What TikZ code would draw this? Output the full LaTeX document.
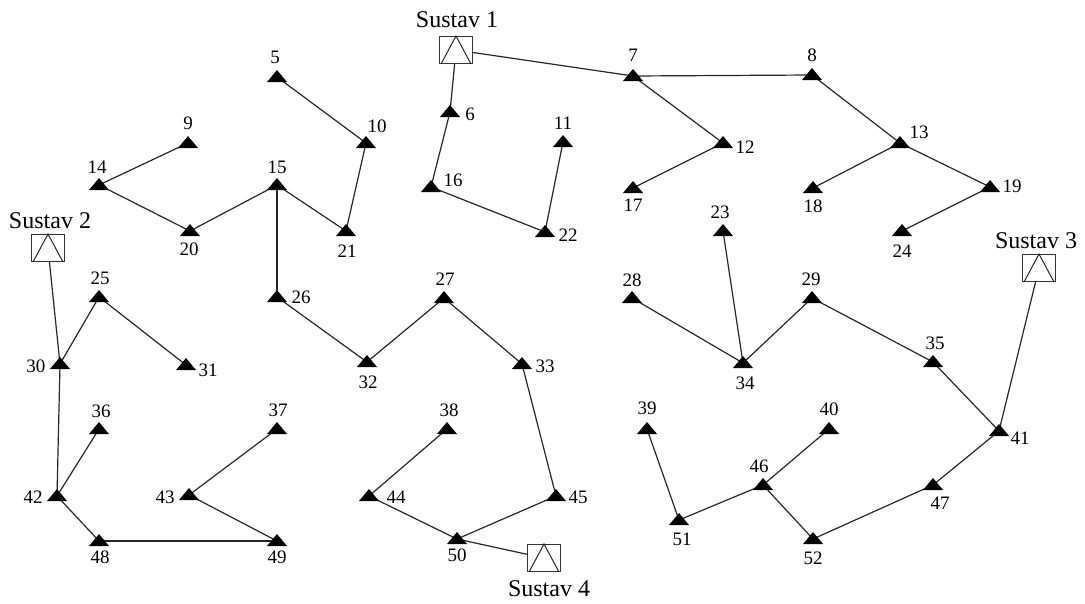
\documentclass[tikz,border=0pt]{standalone}
\usepackage{fontspec}
\setmainfont{Liberation Serif}
\begin{document}
\begin{tikzpicture}[x=1pt,y=-1pt,
  conn/.style={line width=1.2pt,draw=black!85},
  numlabel/.style={font=\fontsize{19}{19}\selectfont,inner sep=0pt},
  syslabel/.style={font=\fontsize{24}{24}\selectfont,inner sep=0pt},
  sbox/.style={draw=black!80,line width=1pt,fill=white,minimum width=33pt,minimum height=27pt,inner sep=0pt}]
\useasboundingbox (0,0) rectangle (1085,603);
% substations
\node[sbox] (s1) at (456,50) {};
\node[sbox] (s2) at (48,248) {};
\node[sbox] (s3) at (1039,268) {};
\node[sbox] (s4) at (544,558) {};
\node[syslabel] (ls1) at (457,20) {Sustav 1};
\node[syslabel] (ls2) at (50,221) {Sustav 2};
\node[syslabel] (ls3) at (1036,241) {Sustav 3};
\node[syslabel] (ls4) at (549,589) {Sustav 4};
% points
\foreach \n/\x/\y/\lx/\ly in {
5/277/77/275/57, 6/450/112/470/114, 7/633/76/633/55, 8/812/75/812/55,
9/188/143/188/123, 10/366/143/377/126, 11/563/142/563/123, 12/723/143/745/147,
13/900/143/919/132, 14/99/185/97/167, 15/277/185/277/167, 16/431/187/453/180,
17/633/188/633/205, 18/813/188/813/206, 19/990/187/1012/186, 20/190/231/189/249,
21/346/231/347/251, 22/545/232/568/235, 23/723/231/720/212, 24/902/231/902/251,
25/99/297/100/278, 26/277/297/301/297, 27/444/298/445/279, 28/632/298/632/280,
29/812/298/811/279, 30/60/364/36/366, 31/186/365/208/370, 32/367/362/368/382,
33/522/364/545/366, 34/743/363/745/383, 35/933/362/935/343, 36/99/429/101/411,
37/277/429/278/410, 38/447/429/449/410, 39/647/429/647/408, 40/829/429/829/409,
41/999/431/1020/438, 42/57/496/33/497, 43/189/495/165/497, 44/369/496/396/497,
45/556/496/578/497, 46/763/485/759/466, 47/933/485/940/503, 48/99/541/100/557,
49/277/541/277/557, 50/457/539/457/555, 51/679/520/682/539, 52/813/539/813/558}
{
  \coordinate (n\n) at (\x,\y);
  \node[numlabel] (l\n) at (\lx,\ly) {\n};
}
% connectors
\foreach \a/\b in {
s1/n7, s1/n6, n7/n8, n7/n12, n12/n17, n8/n13, n13/n18, n13/n19, n19/n24,
n6/n16, n16/n22, n22/n11, n5/n10, n10/n21, n21/n15, n15/n20, n20/n14, n14/n9,
n15/n26, n26/n32, n32/n27, n27/n33, n33/n45, n45/n50, n50/n44, n44/n38, n50/s4,
s2/n30, n30/n25, n25/n31, n30/n42, n42/n36, n42/n48, n48/n49, n49/n43, n43/n37,
n28/n34, n23/n34, n34/n29, n29/n35, n35/n41, n41/s3, n41/n47, n47/n52, n52/n46,
n46/n40, n46/n51, n51/n39}
{
  \draw[conn] (\a) -- (\b);
}
% triangles on top
\foreach \n in {5,...,52}{
  \fill (n\n) ++(-10,5) -- ++(20,0) -- ++(-10,-12) -- cycle;
}
% substation symbols
\foreach \s in {s1,s2,s3,s4}{
  \node[sbox] at (\s) {};
  \draw[line width=1pt,black!85] ([xshift=2pt]\s.south west) -- (\s.north) -- ([xshift=-2pt]\s.south east);
}
\end{tikzpicture}
\end{document}
